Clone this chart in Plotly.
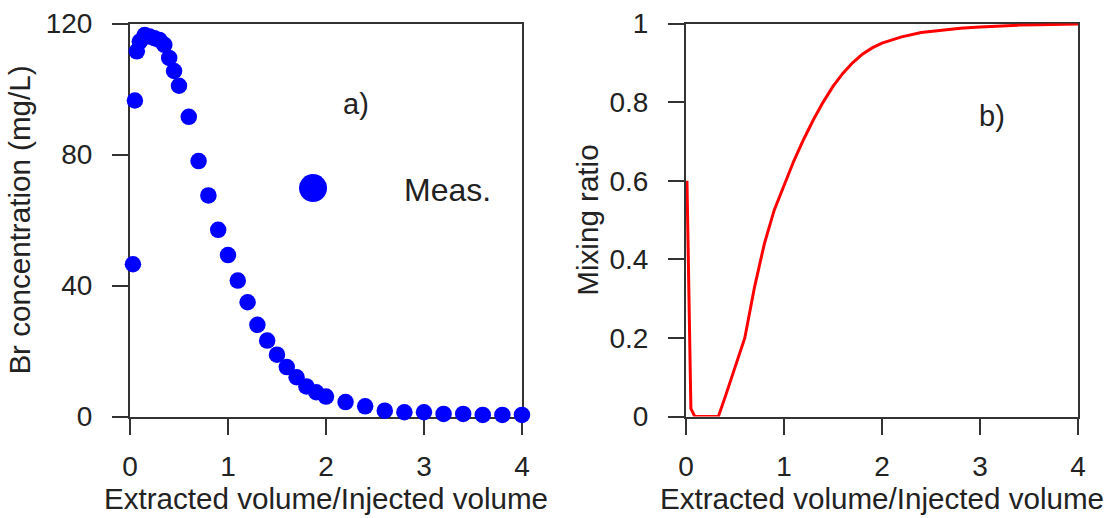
import plotly.graph_objects as go

# Panel a) measured bromide breakthrough
vol_meas = [0.03, 0.05, 0.07, 0.10, 0.15, 0.20, 0.25, 0.30, 0.35, 0.40, 0.45, 0.50,
            0.6, 0.7, 0.8, 0.9, 1.0, 1.1, 1.2, 1.3, 1.4, 1.5, 1.6, 1.7, 1.8, 1.9, 2.0,
            2.2, 2.4, 2.6, 2.8, 3.0, 3.2, 3.4, 3.6, 3.8, 4.0]
br_meas = [46.5, 96.5, 111.5, 114.5, 116.5, 116.0, 115.5, 115.0, 113.5, 109.5, 105.5, 101.0,
           91.5, 78.0, 67.5, 57.0, 49.3, 41.5, 34.9, 28.0, 23.2, 18.9, 15.1, 12.0, 9.2, 7.4, 6.1,
           4.4, 3.1, 1.8, 1.3, 1.3, 0.8, 0.8, 0.5, 0.5, 0.5]

# Panel b) mixing ratio
vol_mix = [0.01, 0.05, 0.09, 0.33, 0.4, 0.5, 0.6, 0.7, 0.8, 0.9, 1.0, 1.1, 1.2, 1.3, 1.4,
           1.5, 1.6, 1.7, 1.8, 1.9, 2.0, 2.2, 2.4, 2.6, 2.8, 3.0, 3.2, 3.4, 3.6, 3.8, 4.0]
mix_ratio = [0.60, 0.02, 0.0, 0.0, 0.05, 0.125, 0.20, 0.33, 0.44, 0.525, 0.59, 0.65, 0.705,
             0.755, 0.80, 0.84, 0.873, 0.90, 0.922, 0.938, 0.95, 0.966, 0.977, 0.983,
             0.988, 0.991, 0.994, 0.996, 0.997, 0.998, 0.999]

x_ticks = [0, 1, 2, 3, 4]
y1_ticks = [0, 40, 80, 120]
y2_ticks = [0, 0.2, 0.4, 0.6, 0.8, 1]
y2_labels = ["0", "0.2", "0.4", "0.6", "0.8", "1"]

FONT = "Arial, Liberation Sans, sans-serif"
TXT = "#222222"
LINE = "#333333"

fig = go.Figure()
fig.add_trace(go.Scatter(x=vol_meas, y=br_meas, mode="markers", name="Meas.",
                         marker=dict(color="#0000ff", size=16.5, line=dict(width=0)),
                         cliponaxis=False, xaxis="x", yaxis="y", showlegend=False))
fig.add_trace(go.Scatter(x=vol_mix, y=mix_ratio, mode="lines",
                         line=dict(color="#ff0000", width=3),
                         cliponaxis=False, xaxis="x2", yaxis="y2", showlegend=False))

axis_common = dict(showgrid=False, zeroline=False, showline=True, linecolor=LINE,
                   linewidth=2, mirror=True, ticks="outside", ticklen=16, tickwidth=2,
                   tickcolor=LINE, tickfont=dict(family=FONT, size=28, color=TXT),
                   layer="below traces", automargin=False)

xtitle = dict(text="Extracted volume/Injected volume",
              font=dict(family=FONT, size=29.6, color=TXT), standoff=6)

fig.update_layout(
    width=1112, height=518,
    margin=dict(l=0, r=0, t=0, b=0, autoexpand=False),
    paper_bgcolor="white", plot_bgcolor="white",
    showlegend=False,
    xaxis=dict(domain=[0.1169, 0.4694], range=[0, 4], tickvals=x_ticks,
               anchor="y", title=xtitle, ticklabelstandoff=8, **axis_common),
    yaxis=dict(domain=[0.1959, 0.9546], range=[0, 120], tickvals=y1_ticks,
               anchor="x", ticklabelstandoff=14,
               title=dict(text="Br concentration (mg/L)",
                          font=dict(family=FONT, size=29.6, color=TXT), standoff=6),
               **axis_common),
    xaxis2=dict(domain=[0.6169, 0.9694], range=[0, 4], tickvals=x_ticks,
                anchor="y2", title=xtitle, ticklabelstandoff=8, **axis_common),
    yaxis2=dict(domain=[0.1959, 0.9546], range=[0, 1], tickvals=y2_ticks,
                ticktext=y2_labels, anchor="x2", ticklabelstandoff=14,
                title=dict(text="Mixing ratio",
                           font=dict(family=FONT, size=29.6, color=TXT), standoff=2),
                **axis_common),
    shapes=[dict(type="circle", xref="paper", yref="paper",
                 xsizemode="pixel", ysizemode="pixel",
                 xanchor=0.2815, yanchor=0.637, x0=-14, x1=14, y0=-14, y1=14,
                 fillcolor="#0000ff", line=dict(width=0))],
    annotations=[
        dict(text="Meas.", xref="paper", yref="paper", x=0.3615, y=0.633,
             xanchor="left", yanchor="middle", showarrow=False,
             font=dict(family=FONT, size=32, color=TXT)),
        dict(text="a)", xref="paper", yref="paper", x=0.3201, y=0.799,
             xanchor="center", yanchor="middle", showarrow=False,
             font=dict(family=FONT, size=29, color=TXT)),
        dict(text="b)", xref="paper", yref="paper", x=0.892, y=0.776,
             xanchor="center", yanchor="middle", showarrow=False,
             font=dict(family=FONT, size=29, color=TXT)),
    ],
)

fig.write_html("out.html")
